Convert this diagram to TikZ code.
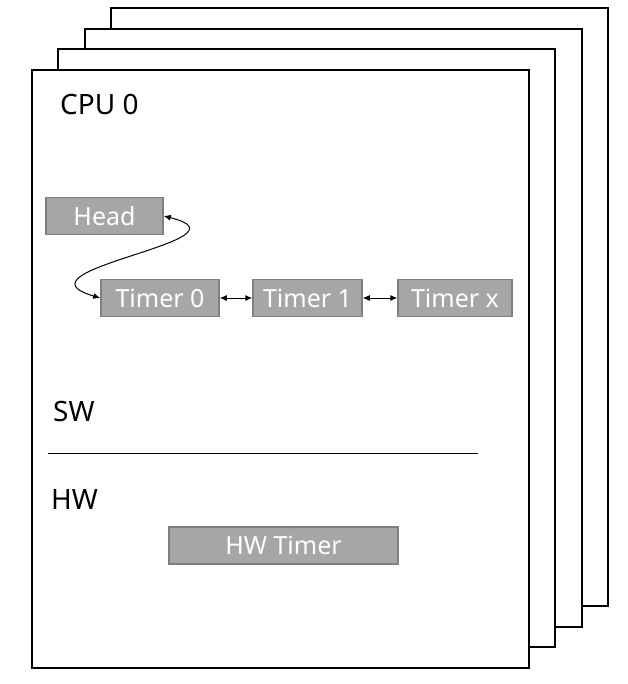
\documentclass[tikz,border=0pt]{standalone}
\usepackage{fontspec}
\setmainfont{Noto Sans}
\usepackage{tikz}
\usetikzlibrary{arrows.meta}

\begin{document}
\begin{tikzpicture}[x=1pt,y=-1pt]
    \tikzset{frame/.style = {draw,fill=white,line width=2pt}}
    \tikzset{timerbox/.style = {shape=rectangle,draw=boxline,fill=boxfill,line width=1.5pt,
        text=white,minimum height=37pt,inner sep=0pt,font=\fontsize{25}{30}\selectfont}}
    \tikzset{label2/.style = {shape=rectangle,draw=none,anchor=west,inner sep=0pt,
        font=\fontsize{28}{32}\selectfont}}
    \tikzset{edge/.style = {{Latex[length=7pt,width=6pt]}-{Latex[length=7pt,width=6pt]},line width=1pt}}
    \definecolor{boxfill}{HTML}{A6A6A6}
    \definecolor{boxline}{HTML}{7F7F7F}

    \useasboundingbox (0,0) rectangle (627,684);

    % cpu frames
    \foreach \k in {3,2,1,0}
        \draw[frame] (32+26.4*\k,70-20.6*\k) rectangle (529+26.4*\k,668-20.6*\k);

    % vertices
    \node[label2] (cpu) at (60,104) {CPU 0};
    \node[timerbox,minimum width=117pt] (head) at (104.5,216) {Head};
    \node[timerbox,minimum width=118pt] (t0) at (160,298) {Timer 0};
    \node[timerbox,minimum width=109pt] (t1) at (307.5,298) {Timer 1};
    \node[timerbox,minimum width=114pt] (tx) at (455,298) {Timer x};

    \node[label2] (sw) at (53,412) {SW};
    \coordinate (l) at (48,453);
    \coordinate (r) at (478,453);
    \node[label2] (hw) at (51,499) {HW};
    \node[timerbox,minimum width=229pt] (hwt) at (283.5,545.5) {HW Timer};

    %edges
    \draw[edge] (head.east) .. controls (260,240) and (5,270) .. (t0.west);
    \draw[edge] (t0) to (t1);
    \draw[edge] (t1) to (tx);
    \draw[line width=1pt] (l) to (r);
\end{tikzpicture}
\end{document}
